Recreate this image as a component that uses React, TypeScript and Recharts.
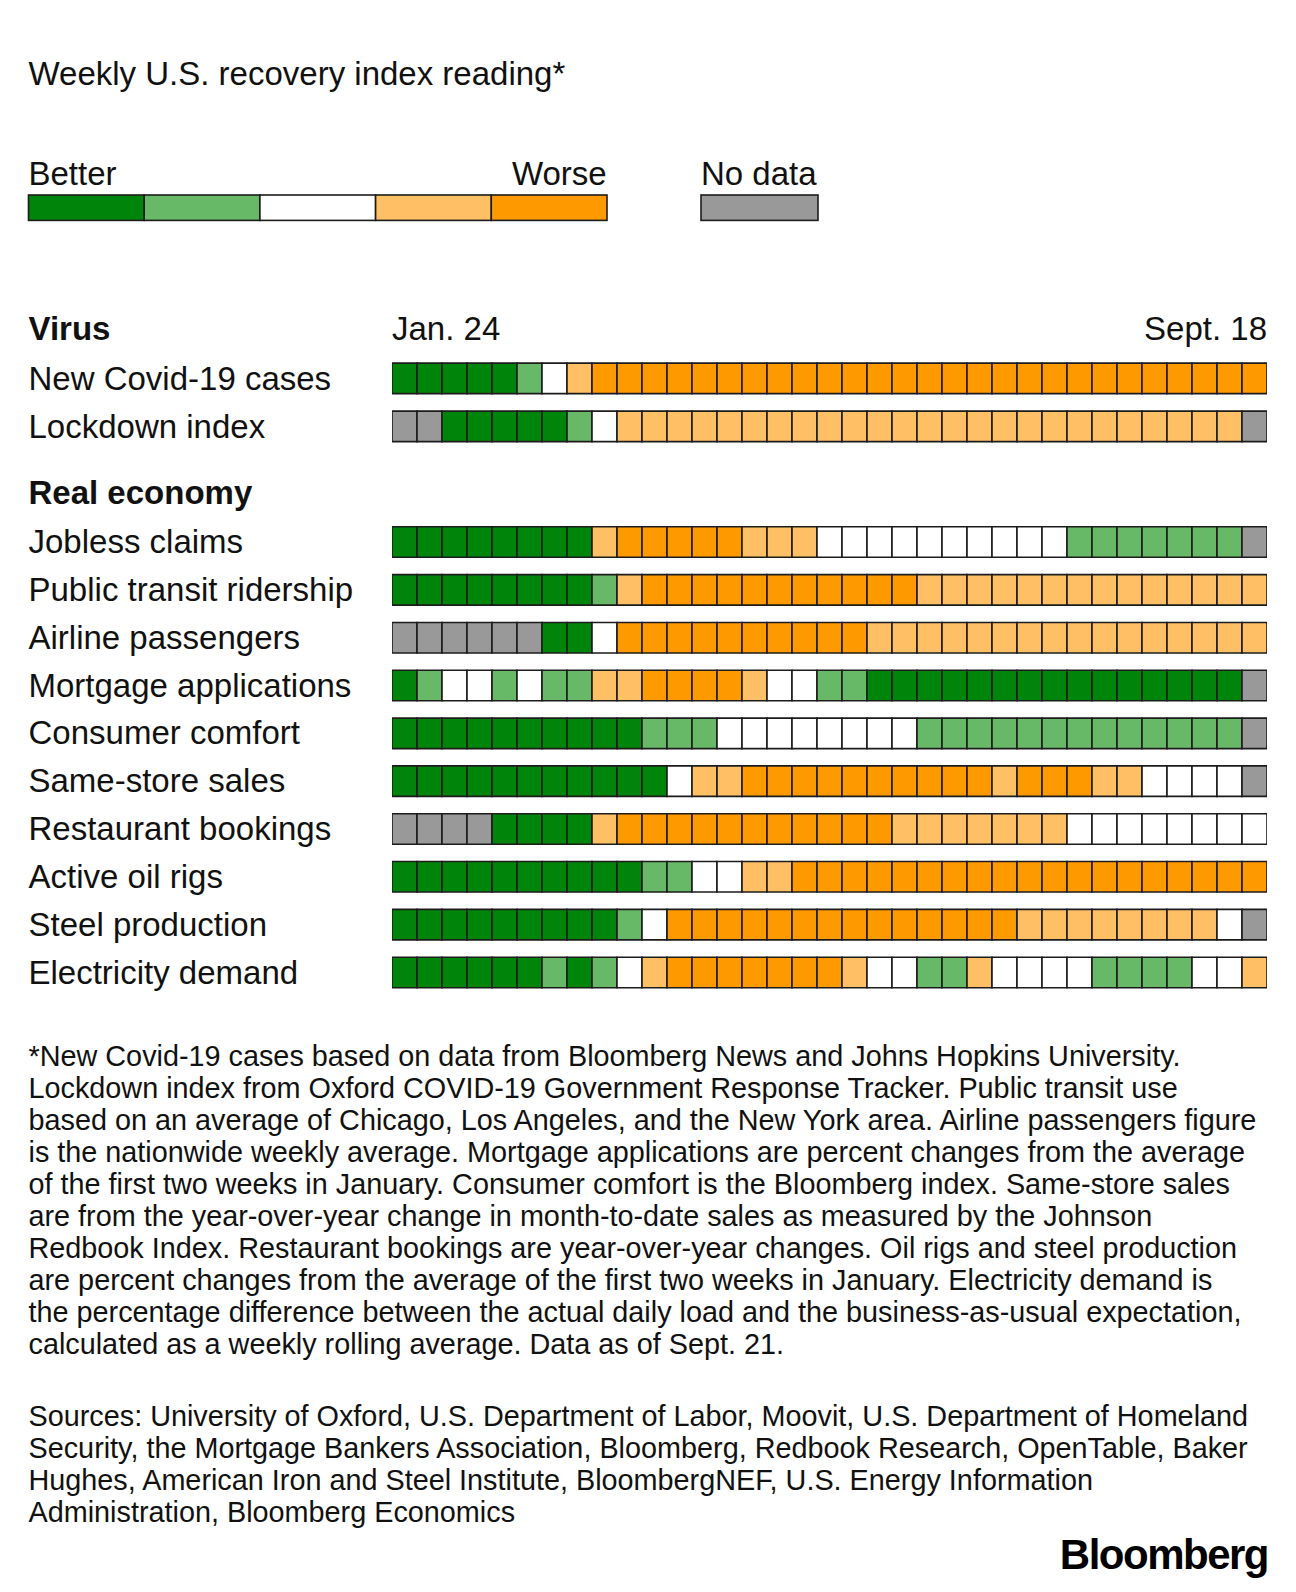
import React from "react";
import { BarChart, Bar, XAxis, YAxis, Cell } from "recharts";

// weekly readings, Jan. 24 through Sept. 18
const WEEKS = [
  "Jan. 24", "Jan. 31", "Feb. 7", "Feb. 14", "Feb. 21", "Feb. 28",
  "Mar. 6", "Mar. 13", "Mar. 20", "Mar. 27", "Apr. 3", "Apr. 10",
  "Apr. 17", "Apr. 24", "May 1", "May 8", "May 15", "May 22", "May 29",
  "June 5", "June 12", "June 19", "June 26", "July 3", "July 10",
  "July 17", "July 24", "July 31", "Aug. 7", "Aug. 14", "Aug. 21",
  "Aug. 28", "Sept. 4", "Sept. 11", "Sept. 18",
];

// G = much better, g = better, W = neutral, o = worse, O = much worse, N = no data
const covidCases      = "GGGGG gWoOO OOOOO OOOOO OOOOO OOOOO OOOOO";
const lockdownIndex   = "NNGGG GGgWo ooooo ooooo ooooo ooooo ooooN";
const joblessClaims   = "GGGGG GGGoO OOOOo ooWWW WWWWW WWggg ggggN";
const publicTransit   = "GGGGG GGGgo OOOOO OOOOO Ooooo ooooo ooooo";
const airlinePass     = "NNNNN NGGWO OOOOO OOOOo ooooo ooooo ooooo";
const mortgageApps    = "GgWWg Wggoo OOOOo WWggG GGGGG GGGGG GGGGN";
const consumerComfort = "GGGGG GGGGG gggWW WWWWW Wgggg ggggg ggggN";
const sameStoreSales  = "GGGGG GGGGG GWooO OOOOO OOOOo OOOoo WWWWN";
const restaurantBook  = "NNNNG GGGoO OOOOO OOOOO ooooo ooWWW WWWWW";
const activeOilRigs   = "GGGGG GGGGG ggWWo oOOOO OOOOO OOOOO OOOOO";
const steelProduction = "GGGGG GGGGg WOOOO OOOOO OOOOO ooooo oooWN";
const electricity     = "GGGGG GgGgW oOOOO OOOoW WggoW WWWgg ggWWo";

const VIRUS_LABELS = ["New Covid-19 cases", "Lockdown index"];
const VIRUS_SERIES = [covidCases, lockdownIndex];

const ECONOMY_LABELS = [
  "Jobless claims", "Public transit ridership", "Airline passengers",
  "Mortgage applications", "Consumer comfort", "Same-store sales",
  "Restaurant bookings", "Active oil rigs", "Steel production",
  "Electricity demand",
];
const ECONOMY_SERIES = [
  joblessClaims, publicTransit, airlinePass, mortgageApps, consumerComfort,
  sameStoreSales, restaurantBook, activeOilRigs, steelProduction, electricity,
];

const LEGEND_SCALE = ["G", "g", "W", "o", "O"];

const FOOTNOTE = [
  "*New Covid-19 cases based on data from Bloomberg News and Johns Hopkins University.",
  "Lockdown index from Oxford COVID-19 Government Response Tracker. Public transit use",
  "based on an average of Chicago, Los Angeles, and the New York area. Airline passengers figure",
  "is the nationwide weekly average. Mortgage applications are percent changes from the average",
  "of the first two weeks in January. Consumer comfort is the Bloomberg index. Same-store sales",
  "are from the year-over-year change in month-to-date sales as measured by the Johnson",
  "Redbook Index. Restaurant bookings are year-over-year changes. Oil rigs and steel production",
  "are percent changes from the average of the first two weeks in January. Electricity demand is",
  "the percentage difference between the actual daily load and the business-as-usual expectation,",
  "calculated as a weekly rolling average. Data as of Sept. 21.",
];

const SOURCES = [
  "Sources: University of Oxford, U.S. Department of Labor, Moovit, U.S. Department of Homeland",
  "Security, the Mortgage Bankers Association, Bloomberg, Redbook Research, OpenTable, Baker",
  "Hughes, American Iron and Steel Institute, BloombergNEF, U.S. Energy Information",
  "Administration, Bloomberg Economics",
];

const COLORS: Record<string, string> = {
  G: "#00850b",
  g: "#67b967",
  W: "#ffffff",
  o: "#ffc065",
  O: "#ff9900",
  N: "#999999",
};

const FONT = "'Liberation Sans', Arial, Helvetica, sans-serif";
const INK = "#111111";
const BORDER = "#1c1c1c";
const LABEL_SIZE = 33;
const NOTE_SIZE = 28.8;

function buildRows(labels: string[], series: string[]) {
  return labels.map((name, r) => {
    const codes = series[r].replace(/ /g, "").split("");
    const row: any = { name, codes };
    codes.forEach((_, i) => (row[`w${i}`] = 1));
    return row;
  });
}

const virusRows = buildRows(VIRUS_LABELS, VIRUS_SERIES);
const economyRows = buildRows(ECONOMY_LABELS, ECONOMY_SERIES);

const RowLabel = (props: any) => {
  const { y, payload } = props;
  return (
    <text x={28.5} y={y} dy={11.5} fontSize={LABEL_SIZE} fill={INK} fontFamily={FONT}>
      {payload.value}
    </text>
  );
};

const DateTick = (props: any) => {
  const { x, y, payload } = props;
  const first = payload.value === 0;
  return (
    <text
      x={x}
      y={y}
      dy={-14}
      fontSize={LABEL_SIZE}
      fill={INK}
      fontFamily={FONT}
      textAnchor={first ? "start" : "end"}
    >
      {first ? WEEKS[0] : WEEKS[WEEKS.length - 1]}
    </text>
  );
};

function HeatRows({ rows, height, top, showDates }: { rows: any[]; height: number; top: number; showDates: boolean }) {
  return (
    <BarChart
      width={1296}
      height={height}
      data={rows}
      layout="vertical"
      margin={{ top, right: 29, bottom: 5, left: 0 }}
      barSize={30.5}
    >
      <XAxis
        type="number"
        domain={[0, WEEKS.length]}
        ticks={[0, WEEKS.length]}
        orientation="top"
        hide={!showDates}
        height={40}
        axisLine={false}
        tickLine={false}
        tickSize={0}
        tickMargin={0}
        tick={<DateTick />}
        allowDataOverflow
      />
      <YAxis
        type="category"
        dataKey="name"
        width={392}
        axisLine={false}
        tickLine={false}
        interval={0}
        tick={<RowLabel />}
      />
      {WEEKS.map((wk, i) => (
        <Bar key={wk} dataKey={`w${i}`} name={wk} stackId="weeks" isAnimationActive={false}>
          {rows.map((row, r) => (
            <Cell key={r} fill={COLORS[row.codes[i]]} stroke={BORDER} strokeWidth={1.6} />
          ))}
        </Bar>
      ))}
    </BarChart>
  );
}

export default function App() {
  const legendX = 28.5;
  const legendW = 115.7;
  return (
    <div
      style={{
        position: "absolute",
        left: 0,
        top: 0,
        width: 1296,
        height: 1592,
        background: "#ffffff",
        overflow: "hidden",
        fontFamily: FONT,
      }}
    >
      <svg width={1296} height={1592} style={{ position: "absolute", left: 0, top: 0 }}>
        <g fontFamily={FONT} fill={INK}>
          <text x={28.5} y={85} fontSize={LABEL_SIZE}>Weekly U.S. recovery index reading*</text>

          <text x={28.5} y={185} fontSize={LABEL_SIZE}>Better</text>
          <text x={606.7} y={185} fontSize={LABEL_SIZE} textAnchor="end">Worse</text>
          <text x={701} y={185} fontSize={LABEL_SIZE}>No data</text>
          {LEGEND_SCALE.map((c, i) => (
            <rect
              key={c}
              x={legendX + i * legendW}
              y={195}
              width={legendW}
              height={25.4}
              fill={COLORS[c]}
              stroke={BORDER}
              strokeWidth={1.6}
            />
          ))}
          <rect x={701} y={195} width={117} height={25.4} fill={COLORS.N} stroke={BORDER} strokeWidth={1.6} />

          <text x={28.5} y={340} fontSize={LABEL_SIZE} fontWeight="bold">Virus</text>
          <text x={28.5} y={504} fontSize={LABEL_SIZE} fontWeight="bold">Real economy</text>

          {FOOTNOTE.map((line, i) => (
            <text key={i} x={28.5} y={1065.5 + i * 32.06} fontSize={NOTE_SIZE}>
              {line}
            </text>
          ))}
          {SOURCES.map((line, i) => (
            <text key={i} x={28.5} y={1426 + i * 31.85} fontSize={NOTE_SIZE}>
              {line}
            </text>
          ))}
          <text x={1268} y={1569} fontSize={42} fontWeight="900" textAnchor="end" letterSpacing={-1.5} fill="#000">
            Bloomberg
          </text>
        </g>
      </svg>

      <div style={{ position: "absolute", left: 0, top: 300 }}>
        <HeatRows rows={virusRows} height={155} top={14.15} showDates />
      </div>
      <div style={{ position: "absolute", left: 0, top: 500 }}>
        <HeatRows rows={economyRows} height={501} top={17.8} showDates={false} />
      </div>
    </div>
  );
}
